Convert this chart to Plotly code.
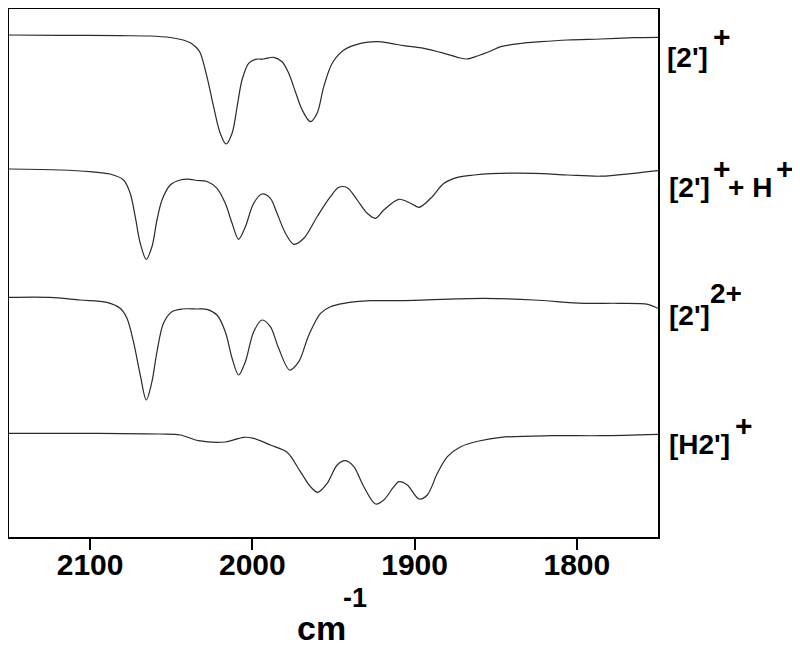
import plotly.graph_objects as go

# ---- data (wavenumber in cm-1, offset intensity in arbitrary units) ----
wn_a = [2150, 2118.5, 2081.5, 2063, 2050.6, 2044.0, 2038.3, 2034.5, 2032.1, 2028.0, 2023.9,
        2019.8, 2016.2, 2012.5, 2009.4, 2006.4, 2002.3, 1998.1, 1993.0, 1986.9, 1981.7,
        1977.6, 1973.5, 1969.3, 1964.2, 1960.1, 1956.0, 1950.8, 1943.6, 1933.3, 1923.0,
        1914.8, 1906.6, 1894.3, 1881.9, 1873.6, 1867.5, 1861.3, 1853.1, 1846.9, 1835.0,
        1822.2, 1805.6, 1785.2, 1764.8, 1750]
int_a = [502, 501.7, 501.3, 501, 499.5, 497.5, 494.3, 489.5, 484.0, 460.3, 430.3,
         403.7, 393, 403.7, 430.3, 457, 473.7, 477.7, 478, 479.7, 475.3,
         463.7, 445.3, 427, 415.3, 423.7, 450.3, 473.7, 487, 493.7, 495.3,
         493.7, 491.3, 488.7, 483.7, 479.7, 478, 481, 486, 490.3, 493.5,
         495.3, 497, 498, 499.3, 499.7]

wn_b = [2150, 2118.5, 2100.0, 2087.7, 2079.4, 2075.3, 2072.2, 2069.1, 2065.4, 2061.9, 2058.8,
        2055.7, 2050.6, 2044.4, 2038.3, 2034.1, 2028.0, 2021.8, 2016.7, 2012.5, 2008.5,
        2004.3, 1999.2, 1994.0, 1988.9, 1984.8, 1979.6, 1974.5, 1968.3, 1960.1, 1951.9,
        1946.7, 1941.5, 1935.4, 1929.2, 1924.1, 1919.0, 1909.7, 1902.5, 1897.3, 1890.1,
        1881.9, 1873.6, 1863.4, 1853.1, 1826.5, 1805.6, 1785.2, 1764.8, 1750]
int_b = [368, 367, 365.3, 363, 357, 343.7, 320.3, 293.7, 277.7, 290.3, 317,
         337, 352, 357, 357.7, 356.5, 355.5, 348.7, 333.7, 313.7, 297.7,
         310.3, 333.7, 343, 338.7, 323.7, 303.7, 292.7, 298.7, 320.3, 340.3,
         349.7, 349.3, 337, 323.7, 318.7, 327, 337.7, 333.7, 329.7, 338.7,
         353.7, 359.7, 362, 363.3, 363.7, 362, 360.8, 363.7, 366.3]

wn_c = [2150, 2124.7, 2106.2, 2089.7, 2081.5, 2077.3, 2073.3, 2069.1, 2065.4, 2061.9, 2058.8,
        2054.8, 2049.6, 2043.4, 2034.1, 2028.0, 2021.8, 2016.7, 2012.5, 2008.5, 2004.3,
        1999.2, 1994.0, 1988.9, 1983.8, 1977.0, 1971.4, 1965.2, 1958.0, 1951.9, 1943.6,
        1927.2, 1908.6, 1857.4, 1826.5, 1795.7, 1774.7, 1756.2, 1750]
int_c = [239.7, 239.7, 237, 234.7, 228.7, 218.7, 195.3, 162, 137, 155.3, 185.3,
         213.7, 225.3, 228, 228, 227.7, 222, 205.3, 178.7, 162, 175.3,
         205.3, 217, 210.3, 188.7, 167, 175.3, 202, 223.7, 230.3, 233.7,
         236.3, 236.3, 238.7, 237, 233.7, 233.7, 232.7, 228.7]

wn_d = [2150, 2093.8, 2056.8, 2044.4, 2033.2, 2016.7, 2005.4, 1999.2, 1988.9, 1978.6, 1970.4,
        1964.2, 1959.7, 1953.9, 1947.7, 1942.6, 1937.5, 1931.3, 1924.1, 1919.0, 1912.8,
        1909.7, 1904.5, 1897.3, 1892.2, 1886.0, 1879.8, 1871.6, 1860.3, 1846.9, 1816.0,
        1785.2, 1750]
int_d = [103.7, 103.7, 103, 102, 96.3, 95, 99.7, 98.7, 92, 84.7, 65.3,
         50.3, 44.7, 53.7, 72, 76.3, 70.3, 50.3, 33, 37, 50.3,
         55.3, 52, 38, 42, 63.7, 80.3, 90.3, 96, 99.7, 101.3,
         101.3, 102.7]

x_ticks = [2100, 2000, 1900, 1800]
x_tick_text = ["2100", "2000", "1900", "1800"]

# ---- figure ----
FONT = "Liberation Sans, Arial, sans-serif"
fig = go.Figure()
for wn, it in [(wn_a, int_a), (wn_b, int_b), (wn_c, int_c), (wn_d, int_d)]:
    fig.add_trace(go.Scatter(x=wn, y=it, mode="lines",
                             line=dict(color="#2a2a2a", width=1.2, shape="spline", smoothing=0.9),
                             showlegend=False, hoverinfo="skip"))

# the page body has an 8px margin, so the figure is placed at (8, 8) in the window
OFF = 8
W, H = 800 - OFF, 655 - OFF
PL, PR, PT, PB = 9, 658, 9, 537          # plot area in window pixels
L, R, T, B = PL - OFF, W - (PR - OFF), PT - OFF, H - (PB - OFF)

fig.update_layout(
    width=W, height=H,
    margin=dict(l=L, r=R, t=T, b=B, autoexpand=False),
    paper_bgcolor="white", plot_bgcolor="white",
    font=dict(family=FONT, color="black"),
    xaxis=dict(range=[2150, 1750], tickvals=x_ticks, ticktext=x_tick_text,
               ticks="outside", ticklen=11, tickwidth=1.5, tickcolor="black",
               ticklabelstandoff=-11,
               showline=True, linecolor="black", linewidth=1.6, mirror=True,
               showgrid=False, zeroline=False,
               tickfont=dict(family=FONT, size=30, color="black", weight="bold")),
    yaxis=dict(range=[0, 528], showticklabels=False, ticks="",
               showline=True, linecolor="black", linewidth=1.6, mirror=True,
               showgrid=False, zeroline=False),
)

pw = PR - PL
ph = PB - PT

def px2paper(px, py):
    return (px - PL) / pw, 1 - (py - PT) / ph

def add_text(txt, left_px, center_py, size=28, xanchor="left"):
    x, y = px2paper(left_px, center_py)
    fig.add_annotation(text="<b>%s</b>" % txt, x=x, y=y, xref="paper", yref="paper",
                       xanchor=xanchor, yanchor="middle", showarrow=False,
                       font=dict(family=FONT, size=size, color="black"))

# series labels
add_text("[2']", 665, 57)
add_text("+", 711, 37, size=30)
add_text("[2']", 667, 187)
add_text("+", 711, 169, size=30)
add_text("+ H", 726, 187)
add_text("+", 774, 169, size=30)
add_text("[2']", 667, 315)
add_text("2+", 708, 293)
add_text("[H2']", 667, 444)
add_text("+", 733, 425, size=30)

# axis title cm^-1
add_text("cm", 321, 628, size=34, xanchor="center")
add_text("-1", 341, 598, size=27)

fig.write_html("out.html")
